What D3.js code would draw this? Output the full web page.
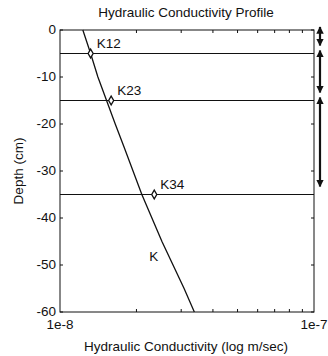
<!DOCTYPE html>
<html lang="en">
<head>
<meta charset="UTF-8">
<title>Hydraulic Conductivity Profile</title>
<script src="https://d3js.org/d3.v7.min.js"></script>
<style>
  body { margin: 0; background: #fff; }
  svg text { font-family: "Liberation Sans", Arial, sans-serif; fill: #111; }
</style>
</head>
<body>
<svg id="chart" width="328" height="356"></svg>
<script>
// K profile (depth in cm, K in m/sec)
const depths = [0, -5, -10, -20, -25, -35, -45, -55, -60];
const kValues = [1.23e-8, 1.32e-8, 1.41e-8, 1.65e-8, 1.79e-8, 2.10e-8, 2.52e-8, 3.08e-8, 3.38e-8];

// interface values
const ifaceNames = ["K12", "K23", "K34"];
const ifaceDepths = [-5, -15, -35];
const ifaceK = [1.32e-8, 1.59e-8, 2.35e-8];

// layer extents shown by arrows
const layerTops = [0, -5, -15];
const layerBottoms = [-5, -15, -35];

const yTicks = [0, -10, -20, -30, -40, -50, -60];
const xTickLabels = ["1e-8", "1e-7"];

const svg = d3.select("#chart");
const margin = { top: 30, right: 14, bottom: 44, left: 60 };
const W = 328, H = 356;
const fs = 13.5;

const x = d3.scaleLog().domain([1e-8, 1e-7]).range([margin.left, W - margin.right]);
const y = d3.scaleLinear().domain([0, -60]).range([margin.top, 312]);

// minor log ticks
const minor = d3.range(2, 10).map(d => d * 1e-8);

// frame
svg.append("rect")
  .attr("x", x(1e-8)).attr("y", y(0))
  .attr("width", x(1e-7) - x(1e-8)).attr("height", y(-60) - y(0))
  .attr("fill", "none").attr("stroke", "#111").attr("stroke-width", 1);

// ticks (inward)
const tickG = svg.append("g").attr("stroke", "#111").attr("stroke-width", 1);
minor.forEach(v => {
  tickG.append("line").attr("x1", x(v)).attr("x2", x(v)).attr("y1", y(-60)).attr("y2", y(-60) - 3);
  tickG.append("line").attr("x1", x(v)).attr("x2", x(v)).attr("y1", y(0)).attr("y2", y(0) + 3);
});
yTicks.forEach(v => {
  tickG.append("line").attr("x1", x(1e-8)).attr("x2", x(1e-8) + 3).attr("y1", y(v)).attr("y2", y(v));
  tickG.append("line").attr("x1", x(1e-7)).attr("x2", x(1e-7) - 3).attr("y1", y(v)).attr("y2", y(v));
});

// y tick labels
svg.selectAll(".ylab").data(yTicks).enter().append("text")
  .attr("x", x(1e-8) - 4).attr("y", d => y(d) + 4)
  .attr("text-anchor", "end").attr("font-size", fs)
  .text(d => d);

// x tick labels
svg.selectAll(".xlab").data([1e-8, 1e-7]).enter().append("text")
  .attr("x", d => x(d)).attr("y", 329)
  .attr("text-anchor", "middle").attr("font-size", fs)
  .text((d, i) => xTickLabels[i]);

// interface lines
svg.selectAll(".iface").data(ifaceDepths).enter().append("line")
  .attr("x1", x(1e-8)).attr("x2", x(1e-7))
  .attr("y1", d => y(d)).attr("y2", d => y(d))
  .attr("stroke", "#111").attr("stroke-width", 1.2);

// K curve
const line = d3.line().x((d, i) => x(kValues[i])).y(d => y(d));
svg.append("path").datum(depths)
  .attr("d", line)
  .attr("fill", "none").attr("stroke", "#111").attr("stroke-width", 1.3);

// diamonds
svg.selectAll(".dia").data(ifaceDepths).enter().append("path")
  .attr("d", d3.symbol().type(d3.symbolDiamond).size(22))
  .attr("transform", (d, i) => `translate(${x(ifaceK[i])},${y(d)})`)
  .attr("fill", "#fff").attr("stroke", "#111").attr("stroke-width", 1.3);

// labels
svg.selectAll(".ilab").data(ifaceNames).enter().append("text")
  .attr("x", (d, i) => x(ifaceK[i]) + 6)
  .attr("y", (d, i) => y(ifaceDepths[i]) - 6)
  .attr("font-size", fs)
  .text(d => d);
svg.append("text").attr("x", x(2.35e-8) - 5).attr("y", y(-49.2))
  .attr("font-size", fs).text("K");

// layer arrows
const defs = svg.append("defs");
defs.append("marker").attr("id", "ah").attr("viewBox", "0 0 10 10")
  .attr("refX", 9).attr("refY", 5).attr("markerWidth", 3.4).attr("markerHeight", 3.6)
  .attr("orient", "auto-start-reverse")
  .append("path").attr("d", "M0,0 L10,5 L0,10 z").attr("fill", "#111");
const ax = 320;
svg.selectAll(".arr").data(layerTops).enter().append("line")
  .attr("x1", ax).attr("x2", ax)
  .attr("y1", d => y(d) - 3)
  .attr("y2", (d, i) => y(layerBottoms[i]) - 8)
  .attr("stroke", "#111").attr("stroke-width", 2.2)
  .attr("marker-start", "url(#ah)").attr("marker-end", "url(#ah)");

// titles
svg.append("text").attr("x", 186).attr("y", 17).attr("text-anchor", "middle")
  .attr("font-size", fs).text("Hydraulic Conductivity Profile");
svg.append("text").attr("x", 186).attr("y", 351).attr("text-anchor", "middle")
  .attr("font-size", fs).text("Hydraulic Conductivity (log m/sec)");
svg.append("text").attr("transform", `translate(23,${y(-30)}) rotate(-90)`)
  .attr("text-anchor", "middle").attr("font-size", fs).text("Depth (cm)");
</script>
</body>
</html>
